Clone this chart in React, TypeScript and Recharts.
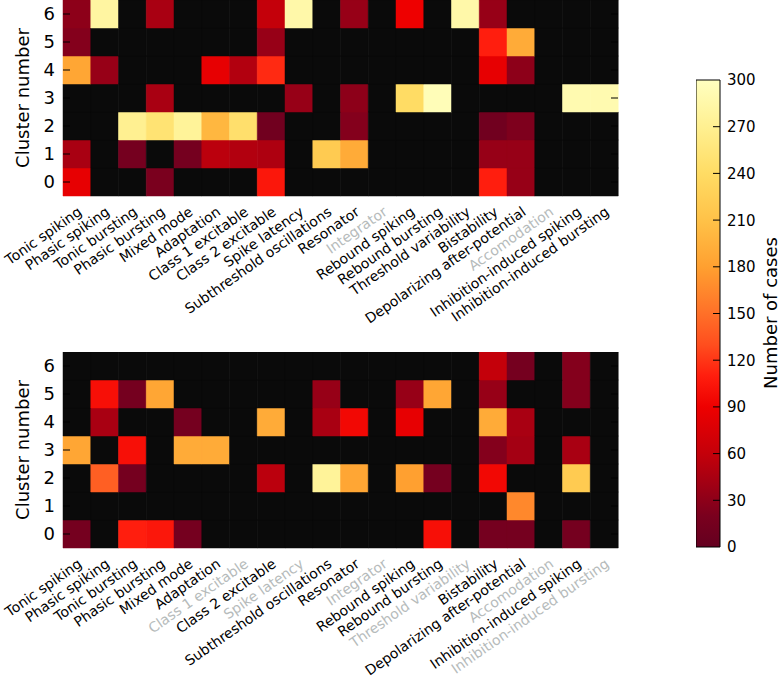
import { Bar, BarChart, Cell, XAxis, YAxis } from "recharts";

const FEATURES = [
  "Tonic spiking",
  "Phasic spiking",
  "Tonic bursting",
  "Phasic bursting",
  "Mixed mode",
  "Adaptation",
  "Class 1 excitable",
  "Class 2 excitable",
  "Spike latency",
  "Subthreshold oscillations",
  "Resonator",
  "Integrator",
  "Rebound spiking",
  "Rebound bursting",
  "Threshold variability",
  "Bistability",
  "Depolarizing after-potential",
  "Accomodation",
  "Inhibition-induced spiking",
  "Inhibition-induced bursting",
];

const CLUSTERS = [0, 1, 2, 3, 4, 5, 6];

// upper panel, one array per cluster (0..6), columns follow FEATURES
const top0 = [85, 0, 0, 20, 0, 0, 0, 105, 0, 0, 0, 0, 0, 0, 0, 110, 35, 0, 0, 0];
const top1 = [45, 0, 15, 0, 15, 55, 50, 48, 0, 220, 190, 0, 0, 0, 0, 35, 35, 0, 0, 0];
const top2 = [0, 0, 270, 250, 275, 200, 245, 12, 0, 0, 25, 0, 0, 0, 0, 12, 22, 0, 0, 0];
const top3 = [0, 0, 0, 45, 0, 0, 0, 0, 35, 0, 30, 0, 240, 295, 0, 0, 0, 0, 290, 290];
const top4 = [185, 35, 0, 0, 0, 85, 50, 115, 0, 0, 0, 0, 0, 0, 0, 85, 30, 0, 0, 0];
const top5 = [25, 0, 0, 0, 0, 0, 0, 35, 0, 0, 0, 0, 0, 0, 0, 110, 190, 0, 0, 0];
const top6 = [30, 280, 0, 45, 0, 0, 0, 60, 285, 0, 35, 0, 90, 0, 285, 35, 0, 0, 0, 0];

// lower panel
const bot0 = [15, 0, 110, 105, 15, 0, 0, 0, 0, 0, 0, 0, 0, 100, 0, 15, 15, 0, 15, 0];
const bot1 = [0, 0, 0, 0, 0, 0, 0, 0, 0, 0, 0, 0, 0, 0, 0, 0, 165, 0, 0, 0];
const bot2 = [0, 140, 15, 0, 0, 0, 0, 55, 0, 275, 185, 0, 180, 15, 0, 95, 0, 0, 220, 0];
const bot3 = [185, 0, 100, 0, 190, 190, 0, 0, 0, 0, 0, 0, 0, 0, 0, 25, 42, 0, 45, 0];
const bot4 = [0, 45, 0, 0, 15, 0, 0, 190, 0, 45, 95, 0, 85, 0, 0, 190, 45, 0, 0, 0];
const bot5 = [0, 100, 15, 185, 0, 0, 0, 0, 0, 35, 0, 0, 35, 185, 0, 35, 0, 0, 25, 0];
const bot6 = [0, 0, 0, 0, 0, 0, 0, 0, 0, 0, 0, 0, 0, 0, 0, 60, 15, 0, 25, 0];

const TOP = [top0, top1, top2, top3, top4, top5, top6];
const BOTTOM = [bot0, bot1, bot2, bot3, bot4, bot5, bot6];

const CB_MAX = 300;
const CB_TICKS = [0, 30, 60, 90, 120, 150, 180, 210, 240, 270, 300];

const FONT = "DejaVu Sans, Verdana, sans-serif";
const EMPTY = "#0a0a0a";
const GRAY = "#b6bbbb";
const PLOT_W = 555;

// dark red -> red -> orange -> pale yellow
const STOPS: [number, number[]][] = [
  [0, [100, 0, 32]],
  [20, [122, 0, 30]],
  [40, [160, 0, 20]],
  [60, [196, 0, 10]],
  [90, [238, 0, 0]],
  [110, [255, 30, 14]],
  [130, [255, 78, 30]],
  [150, [255, 112, 40]],
  [180, [255, 160, 48]],
  [210, [255, 194, 72]],
  [240, [255, 220, 100]],
  [270, [255, 240, 145]],
  [300, [255, 255, 192]],
];

function cmap(v: number) {
  const t = Math.max(0, Math.min(CB_MAX, v));
  for (let k = 1; k < STOPS.length; k++) {
    const [v0, c0] = STOPS[k - 1];
    const [v1, c1] = STOPS[k];
    if (t <= v1) {
      const f = (t - v0) / (v1 - v0);
      const c = c0.map((a, j) => Math.round(a + (c1[j] - a) * f));
      return `rgb(${c[0]},${c[1]},${c[2]})`;
    }
  }
  return "rgb(255,255,192)";
}

const cellColor = (v: number) => (v > 0 ? cmap(v) : EMPTY);

function Heatmap({ grid, height, xAxisHeight }: { grid: number[][]; height: number; xAxisHeight: number }) {
  const rows = FEATURES.map((name) => {
    const r: Record<string, string | number> = { name };
    CLUSTERS.forEach((c) => (r[`c${c}`] = 1));
    return r;
  });
  const empty = FEATURES.map((_, i) => grid.every((r) => r[i] === 0));

  return (
    <BarChart
      width={640}
      height={height}
      data={rows}
      margin={{ top: 0, right: 22, bottom: 0, left: 0 }}
      barCategoryGap={0}
      barGap={0}
    >
      {CLUSTERS.map((c) => (
        <Bar key={c} dataKey={`c${c}`} stackId="s" isAnimationActive={false}>
          {FEATURES.map((_, i) => {
            const fill = cellColor(grid[c][i]);
            return <Cell key={i} fill={fill} stroke={fill} strokeWidth={0.5} />;
          })}
        </Bar>
      ))}
      <XAxis
        dataKey="name"
        type="category"
        interval={0}
        height={xAxisHeight}
        axisLine={false}
        tickLine={false}
        tickSize={0}
        tickMargin={0}
        tick={(p: any) => {
          const i = FEATURES.indexOf(p.payload.value);
          const ax = p.x + 6;
          const ay = p.y + 18;
          return (
            <text
              x={ax}
              y={ay}
              transform={`rotate(-35 ${ax} ${ay})`}
              textAnchor="end"
              fontSize={14}
              fontFamily={FONT}
              fill={empty[i] ? GRAY : "#000"}
            >
              {p.payload.value}
            </text>
          );
        }}
      />
      <YAxis
        type="number"
        domain={[0, CLUSTERS.length]}
        ticks={CLUSTERS.map((c) => c + 0.5)}
        width={63}
        axisLine={false}
        tickLine={false}
        tickSize={0}
        tickMargin={0}
        tick={(p: any) => (
          <g>
            <line x1={p.x} x2={p.x + 7} y1={p.y} y2={p.y} stroke="#000" />
            <line x1={p.x + PLOT_W - 7} x2={p.x + PLOT_W} y1={p.y} y2={p.y} stroke="#000" />
            <text x={p.x - 8} y={p.y} dy="0.36em" textAnchor="end" fontSize={18} fontFamily={FONT} fill="#000">
              {p.payload.value - 0.5}
            </text>
          </g>
        )}
      />
    </BarChart>
  );
}

function ColorBar() {
  return (
    <BarChart
      width={84}
      height={560}
      data={[{ v: CB_MAX }]}
      margin={{ top: 80, right: 0, bottom: 13, left: 0 }}
      barCategoryGap={0}
    >
      <defs>
        <linearGradient id="cbGrad" x1="0" y1="1" x2="0" y2="0">
          {STOPS.map(([v]) => (
            <stop key={v} offset={v / CB_MAX} stopColor={cmap(v)} />
          ))}
        </linearGradient>
      </defs>
      <XAxis hide type="category" />
      <Bar dataKey="v" fill="url(#cbGrad)" stroke="#000" strokeWidth={1} isAnimationActive={false} />
      <YAxis
        orientation="right"
        type="number"
        domain={[0, CB_MAX]}
        ticks={CB_TICKS}
        width={60}
        axisLine={false}
        tickLine={false}
        tickSize={0}
        tickMargin={0}
        tick={(p: any) => (
          <g>
            {p.payload.value > 0 && p.payload.value < CB_MAX && (
              <line x1={p.x - 7} x2={p.x} y1={p.y} y2={p.y} stroke="#000" />
            )}
            <text x={p.x + 7} y={p.y} dy="0.36em" textAnchor="start" fontSize={15} fontFamily={FONT} fill="#000">
              {p.payload.value}
            </text>
          </g>
        )}
      />
    </BarChart>
  );
}

const rotated = (left: number, top: number, text: string) => (
  <div
    style={{
      position: "absolute",
      left,
      top,
      transform: "translate(-50%, -50%) rotate(-90deg)",
      whiteSpace: "nowrap",
      fontFamily: FONT,
      fontSize: 18,
      color: "#000",
      lineHeight: 1,
    }}
  >
    {text}
  </div>
);

export default function App() {
  return (
    <div style={{ position: "absolute", left: 0, top: 0, width: 780, height: 685, background: "#fff", overflow: "hidden" }}>
      <div style={{ position: "absolute", left: 0, top: 0 }}>
        <Heatmap grid={TOP} height={346} xAxisHeight={150} />
      </div>
      <div style={{ position: "absolute", left: 0, top: 352 }}>
        <Heatmap grid={BOTTOM} height={333} xAxisHeight={137} />
      </div>
      <div style={{ position: "absolute", left: 696, top: 0 }}>
        <ColorBar />
      </div>
      {rotated(23, 98, "Cluster number")}
      {rotated(23, 450, "Cluster number")}
      {rotated(771, 313, "Number of cases")}
    </div>
  );
}
